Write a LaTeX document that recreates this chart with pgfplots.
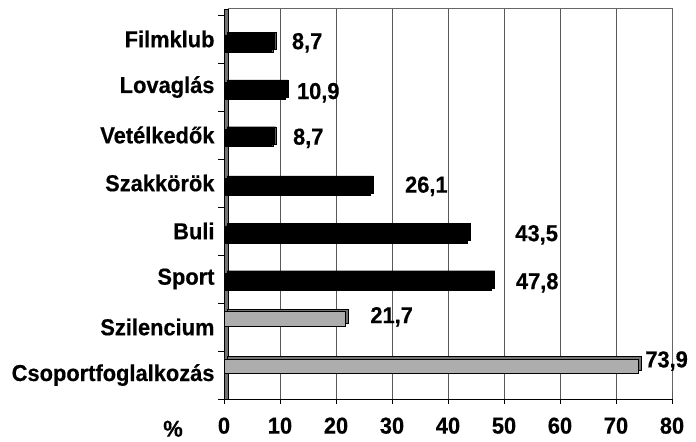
\documentclass[border=0pt]{standalone}
\usepackage{pgfplots}
\pgfplotsset{compat=1.18}
\usepackage{pgfplotstable}
\usepackage{fontspec}
\setmainfont{Liberation Sans}
\newfontface\boldface{Liberation Sans Bold}[FakeBold=0.5, FakeStretch=0.95]
\newcommand\myfont{\fontsize{23bp}{27bp}\selectfont\boldface}

\pgfplotstableread{
x y
8.7 6.906
10.9 5.917
8.7 4.94
26.1 3.917
43.5 2.927
47.8 1.94
}\blackdata

\pgfplotstableread{
x y
21.7 1.167
73.9 0.1875
}\graydata

\pgfplotstableread{
x y lab
12.1 6.92 8,7
13.0 5.88 10,9
12.3 4.93 8,7
32.3 3.93 26,1
52.0 2.92 43,5
52.1 1.92 47,8
26.1 1.21 21,7
75.2 0.29 73,9
}\labdata

\begin{document}
\begin{tikzpicture}[font=\myfont]
\begin{axis}[
  scale only axis,
  width=448bp, height=390bp,
  xmin=0, xmax=80,
  ymin=-0.5, ymax=7.625,
  xtick={0,10,...,80},
  ytick={0,...,7},
  yticklabels={Csoportfoglalkozás,Szilencium,Sport,Buli,Szakkörök,Vetélkedők,Lovaglás,Filmklub},
  ytick style={draw=none},
  xtick style={draw=black, line width=0.8bp},
  tick align=outside,
  major tick length=5bp,
  xmajorgrids,
  grid style={draw=black!65, line width=0.9bp},
  axis x line*=bottom,
  axis y line*=left,
  x axis line style={line width=0.9bp},
  y axis line style={draw=none},
  tick label style={font=\myfont},
  xticklabel style={yshift=-10bp},
  yticklabel style={xshift=-1bp},
  /pgf/number format/assume math mode=true,
  clip=false,
  xbar, bar shift=0pt,
]
% left wall
\fill[black!55, draw=black, line width=0.6bp] (rel axis cs:0,0) rectangle ([xshift=4bp]rel axis cs:0,1);
\draw[black!60, line width=1bp] ([xshift=4bp]rel axis cs:0,1) -- (rel axis cs:1,1) -- (rel axis cs:1,0.02);
% boundary ticks
\pgfplotsinvokeforeach{-0.5,0.5,1.5,2.5,3.5,4.5,5.5,6.5,7.5}{
  \draw[line width=0.8bp] (axis cs:0,#1) -- ([xshift=-6bp]axis cs:0,#1);
}
% depth faces
\addplot[xshift=3bp, yshift=2.5bp, fill=black, draw=black, bar width=0.36] table[x=x,y=y] {\blackdata};
\addplot[xshift=3bp, yshift=2.5bp, fill=black!55, draw=black, line width=0.6bp, bar width=0.3] table[x=x,y=y] {\graydata};
% bars
\addplot[fill=black, draw=black, bar width=0.36] table[x=x,y=y] {\blackdata};
\addplot[fill=black!32, draw=black, line width=0.6bp, bar width=0.3] table[x=x,y=y] {\graydata};
% value labels
\addplot[draw=none, mark=none, xbar=false, nodes near coords, point meta=explicit symbolic,
  nodes near coords style={anchor=west, inner sep=0pt, font=\myfont}]
  table[x=x,y=y,meta=lab] {\labdata};
\node[font=\myfont] at (axis cs:-9.1,-1.12) {\%};
\coordinate (sw) at (rel axis cs:0,0);
\coordinate (ne) at (rel axis cs:1,1);
\end{axis}
\pgfresetboundingbox
\path[use as bounding box] ([xshift=-224bp,yshift=-42bp]sw) rectangle ([xshift=24bp,yshift=9bp]ne);
\end{tikzpicture}
\end{document}
